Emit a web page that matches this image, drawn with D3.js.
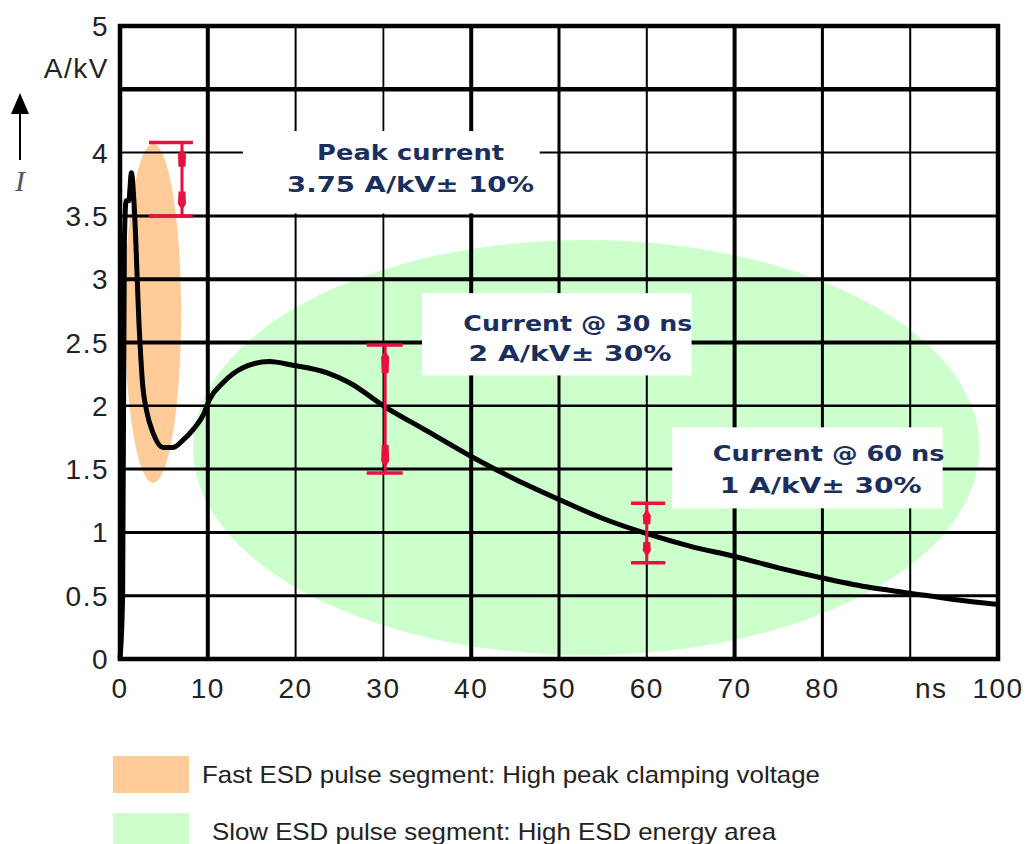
<!DOCTYPE html>
<html>
<head>
<meta charset="utf-8">
<script src="https://cdn.jsdelivr.net/npm/d3@7"></script>
<style>
  html, body { margin: 0; padding: 0; background: #fff; }
  svg { display: block; }
</style>
</head>
<body>
<div id="chart"></div>
<script>
// ESD current waveform (IEC 61000-4-2)
const timeNs = [0, 0.3, 0.5, 0.7, 1.0, 1.3, 1.6, 2.2, 2.6, 3.0, 3.8, 4.9, 6.0, 7.2, 8.3, 9.5, 10.2, 11.7, 14, 17, 19.7, 23.6, 26.2, 30, 35, 40, 45, 50, 55, 60, 65, 70, 75, 80, 85, 90, 95, 100];
const currentAkV = [0, 0.5, 3.3, 3.62, 3.62, 3.84, 3.6, 2.6, 2.15, 1.97, 1.78, 1.67, 1.67, 1.73, 1.81, 1.93, 2.05, 2.18, 2.3, 2.35, 2.32, 2.26, 2.18, 2.0, 1.8, 1.6, 1.42, 1.26, 1.11, 0.99, 0.89, 0.81, 0.72, 0.64, 0.57, 0.52, 0.47, 0.43];

const xTicks = [0, 10, 20, 30, 40, 50, 60, 70, 80, 100];
const yTicks = [0, 0.5, 1, 1.5, 2, 2.5, 3, 3.5, 4, 5];
const xGrid = [10, 20, 30, 40, 50, 60, 70, 80, 90];
const yGrid = [0.5, 1, 1.5, 2, 2.5, 3, 3.5, 4, 4.5];

// tolerance bars: time, low, high, cap start, cap end
const barTime = [7.06, 30.2, 60];
const barLow = [3.5, 1.47, 0.76];
const barHigh = [4.08, 2.48, 1.23];
const capFrom = [3.3, 28.1, 58.2];
const capTo = [8.3, 32.2, 62.1];

const noteLines = [
  ["Peak current", "3.75 A/kV\u00b1  10%"],
  ["Current @ 30 ns", "2 A/kV\u00b1  30%"],
  ["Current @ 60 ns", "1 A/kV\u00b1  30%"]
];

const legendLabels = [
  "Fast ESD pulse segment: High peak clamping voltage",
  "Slow ESD pulse segment: High ESD energy area"
];

const W = 1031, H = 844;
const svg = d3.select("#chart").append("svg")
  .attr("width", W).attr("height", H);

const x = d3.scaleLinear().domain([0, 100]).range([120, 998]);
const y = d3.scaleLinear().domain([0, 5]).range([659, 26]);

const peach = "#ffcc99", mint = "#ccffcc", red = "#e8103f", navy = "#1b2f5e";

// segment ellipses (data units: centre, half-width, half-height)
const zones = [
  { cx: 3.76, cy: 2.73, rx: 3.2, ry: 1.34, color: peach },
  { cx: 53.1, cy: 1.67, rx: 44.8, ry: 1.64, color: mint }
];
svg.append("g").selectAll("ellipse")
  .data(zones).enter().append("ellipse")
  .attr("cx", d => x(d.cx))
  .attr("cy", d => y(d.cy))
  .attr("rx", d => x(d.rx) - x(0))
  .attr("ry", d => y(0) - y(d.ry))
  .attr("fill", d => d.color);

// grid, with the uneven line weights of the original
const xWeight = { 10: 4, 20: 2, 30: 1.8, 40: 4, 50: 3, 60: 2, 70: 4, 80: 3, 90: 2 };
const yWeight = { 0.5: 3, 1: 3, 1.5: 3, 2: 2.6, 2.5: 4, 3: 4, 3.5: 3, 4: 2, 4.5: 4.5 };

const grid = svg.append("g").attr("stroke", "#000");
grid.selectAll("line.v").data(xGrid).enter().append("line")
  .attr("class", "v")
  .attr("x1", d => x(d)).attr("x2", d => x(d))
  .attr("y1", y(5)).attr("y2", y(0))
  .attr("stroke-width", d => xWeight[d]);
grid.selectAll("line.h").data(yGrid).enter().append("line")
  .attr("class", "h")
  .attr("x1", x(0)).attr("x2", x(100))
  .attr("y1", d => y(d)).attr("y2", d => y(d))
  .attr("stroke-width", d => yWeight[d]);

svg.append("rect")
  .attr("x", x(0)).attr("y", y(5))
  .attr("width", x(100) - x(0)).attr("height", y(0) - y(5))
  .attr("fill", "none").attr("stroke", "#000").attr("stroke-width", 4.5);

// white annotation boxes (data units)
const boxes = [
  { t0: 14.0, t1: 47.8, i0: 3.52, i1: 4.17 },
  { t0: 34.4, t1: 65.1, i0: 2.24, i1: 2.89 },
  { t0: 62.9, t1: 93.7, i0: 1.19, i1: 1.83 }
];
svg.append("g").selectAll("rect")
  .data(boxes).enter().append("rect")
  .attr("x", d => x(d.t0)).attr("y", d => y(d.i1))
  .attr("width", d => x(d.t1) - x(d.t0))
  .attr("height", d => y(d.i0) - y(d.i1))
  .attr("fill", "#fff");

// waveform
const pts = timeNs.map((t, i) => [t, currentAkV[i]]);
svg.append("path")
  .datum(pts)
  .attr("fill", "none")
  .attr("stroke", "#000")
  .attr("stroke-width", 5)
  .attr("stroke-linejoin", "round")
  .attr("d", d3.line().x(d => x(d[0])).y(d => y(d[1])).curve(d3.curveMonotoneX));

// tolerance bars
const bars = svg.append("g").attr("stroke", red).attr("fill", red);
barTime.forEach((t, i) => {
  const bx = x(t), top = y(barHigh[i]), bot = y(barLow[i]);
  bars.append("line").attr("x1", bx).attr("x2", bx).attr("y1", top).attr("y2", bot).attr("stroke-width", 3);
  [top, bot].forEach(cy => {
    bars.append("line").attr("x1", x(capFrom[i])).attr("x2", x(capTo[i]))
      .attr("y1", cy).attr("y2", cy).attr("stroke-width", 3.5);
  });
  // arrow bodies near both ends
  const len = Math.min(22, (bot - top) / 4);
  [[top + 6, 1], [bot - 6, -1]].forEach(([sy, dir]) => {
    bars.append("path")
      .attr("stroke", "none")
      .attr("d", `M${bx},${sy} L${bx + 4},${sy + dir * 6} L${bx + 3.5},${sy + dir * len} L${bx - 3.5},${sy + dir * len} L${bx - 4},${sy + dir * 6} Z`);
  });
});

// annotation texts
const notePos = [
  [{ t: 33.1, i: 4.0, a: "middle", w: 187 }, { t: 33.1, i: 3.75, a: "middle", w: 247 }],
  [{ t: 39.1, i: 2.65, a: "start", w: 229 }, { t: 39.7, i: 2.41, a: "start", w: 203 }],
  [{ t: 67.5, i: 1.62, a: "start", w: 232 }, { t: 68.3, i: 1.37, a: "start", w: 202 }]
];
const notes = svg.append("g")
  .attr("font-family", "'DejaVu Sans', Verdana, sans-serif")
  .attr("font-weight", "bold")
  .attr("font-size", 21)
  .attr("fill", navy);
noteLines.forEach((lines, i) => {
  lines.forEach((s, j) => {
    const p = notePos[i][j];
    notes.append("text")
      .attr("x", x(p.t)).attr("y", y(p.i))
      .attr("dy", "0.36em")
      .attr("text-anchor", p.a)
      .attr("textLength", p.w)
      .attr("lengthAdjust", "spacingAndGlyphs")
      .text(s);
  });
});

// axis labels
const axisText = svg.append("g")
  .attr("font-family", "'Liberation Sans', Arial, sans-serif")
  .attr("font-size", 28)
  .attr("fill", "#222")
  .attr("letter-spacing", 1.5);

axisText.selectAll("text.y").data(yTicks).enter().append("text")
  .attr("class", "y")
  .attr("x", 109).attr("y", d => y(d))
  .attr("dy", "0.36em")
  .attr("text-anchor", "end")
  .text(d => d);
axisText.append("text")
  .attr("x", 109).attr("y", y(4.67)).attr("dy", "0.36em")
  .attr("text-anchor", "end").text("A/kV");

axisText.selectAll("text.x").data(xTicks).enter().append("text")
  .attr("class", "x")
  .attr("x", d => x(d)).attr("y", 688)
  .attr("dy", "0.36em")
  .attr("text-anchor", "middle")
  .text(d => d);
axisText.append("text")
  .attr("x", x(92.4)).attr("y", 688).attr("dy", "0.36em")
  .attr("text-anchor", "middle").text("ns");

// current arrow + symbol
svg.append("line").attr("x1", 20).attr("x2", 20).attr("y1", 160).attr("y2", 108)
  .attr("stroke", "#000").attr("stroke-width", 2);
svg.append("path").attr("d", "M20,93 L29,114 L11,114 Z").attr("fill", "#000");
svg.append("text")
  .attr("x", 20).attr("y", 180).attr("dy", "0.36em")
  .attr("text-anchor", "middle")
  .attr("font-family", "'Liberation Serif', 'Times New Roman', serif")
  .attr("font-style", "italic")
  .attr("font-size", 30)
  .attr("fill", "#555")
  .text("I");

// legend
const legendColors = [peach, mint];
const legendY = [774, 831];
const legendW = [618, 564];
const legendX = [202, 212];
const legend = svg.append("g");
legendLabels.forEach((lab, i) => {
  legend.append("rect")
    .attr("x", 113).attr("y", legendY[i] - 18)
    .attr("width", 76).attr("height", 37)
    .attr("fill", legendColors[i]);
  legend.append("text")
    .attr("x", legendX[i]).attr("y", legendY[i])
    .attr("dy", "0.36em")
    .attr("font-family", "'Liberation Sans', Arial, sans-serif")
    .attr("font-size", 24)
    .attr("fill", "#222")
    .attr("textLength", legendW[i])
    .attr("lengthAdjust", "spacingAndGlyphs")
    .text(lab);
});
</script>
</body>
</html>
